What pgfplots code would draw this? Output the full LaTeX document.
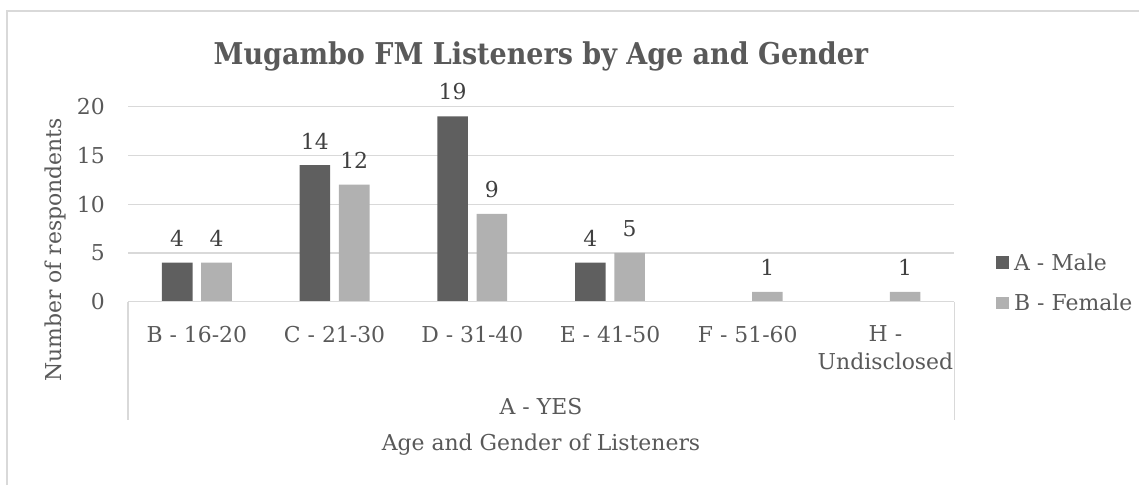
\documentclass[border=0pt]{standalone}
\usepackage{pgfplots}
\pgfplotsset{compat=1.18}
\usepackage{fontspec}
\setmainfont{DejaVu Serif}
\newfontfamily\titlefont{DejaVu Serif Condensed}
\definecolor{txt}{HTML}{595959}
\definecolor{lbl}{HTML}{404040}
\definecolor{male}{HTML}{5F5F5F}
\definecolor{female}{HTML}{B1B1B1}
\definecolor{gridc}{HTML}{D9D9D9}
\newcommand\fs{\fontsize{21.9}{28}\selectfont}
\begin{document}
\begin{tikzpicture}
\path[use as bounding box] (0pt,0pt) rectangle (1139pt,485pt);
\draw[gridc, line width=1.3pt] (7pt,0pt) -- (7pt,474pt) -- (1139pt,474pt);
\begin{axis}[
  at={(128pt,183.3pt)}, anchor=south west,
  scale only axis, width=826.3pt, height=195pt,
  xmin=-0.5, xmax=5.5, ymin=0, ymax=20,
  ybar=8.7pt, bar width=30.6pt,
  axis line style={draw=none},
  xtick={0,...,5},
  xticklabels={B - 16-20, C - 21-30, D - 31-40, E - 41-50, F - 51-60, {H -\\Undisclosed}},
  xticklabel style={align=center, anchor=north, inner sep=0pt, yshift=-24pt, font=\fs, text=txt},
  ytick={0,5,...,20},
  yticklabel style={anchor=east, inner sep=0pt, xshift=-23pt, font=\fs, text=txt},
  /pgf/number format/assume math mode=true,
  major tick length=0pt, tick style={draw=none},
  ymajorgrids, grid style={gridc, line width=1.3pt},
  nodes near coords,
  nodes near coords style={anchor=south, inner sep=0pt, yshift=16pt, font=\fs, text=lbl},
  legend style={at={(rel axis cs:1.0504,0.248)}, anchor=north west, draw=none, fill=none,
    inner sep=0pt, row sep=22pt, column sep=5pt, font=\fs, text=txt, nodes={inner sep=0pt}},
  legend image code/.code={\fill[#1] (0pt,-6.25pt) rectangle (13pt,6.25pt);},
  legend cell align=left,
  clip=false,
]
\addplot[fill=male, draw=none] coordinates {(0,4) (1,14) (2,19) (3,4)};
\addlegendentry{A - Male}
\addplot[fill=female, draw=none] coordinates {(0,4) (1,12) (2,9) (3,5) (4,1) (5,1)};
\addlegendentry{B - Female}
\draw[gridc, line width=1.3pt] (rel axis cs:0,0) -- (rel axis cs:1,0);
\draw[gridc, line width=1.3pt] (rel axis cs:0,0) -- ++(0pt,-118.3pt);
\draw[gridc, line width=1.3pt] (rel axis cs:1,0) -- ++(0pt,-118.3pt);
\end{axis}
\node[anchor=base, font=\titlefont\bfseries\fontsize{30}{36}\selectfont, text=txt] at (541pt,420pt) {Mugambo FM Listeners by Age and Gender};
\node[anchor=base, font=\fs, text=txt] at (541pt,71pt) {A - YES};
\node[anchor=base, font=\fs, text=txt] at (541pt,35pt) {Age and Gender of Listeners};
\node[rotate=90, anchor=center, font=\fs, text=txt] at (55pt,235pt) {Number of respondents};
\end{tikzpicture}
\end{document}
